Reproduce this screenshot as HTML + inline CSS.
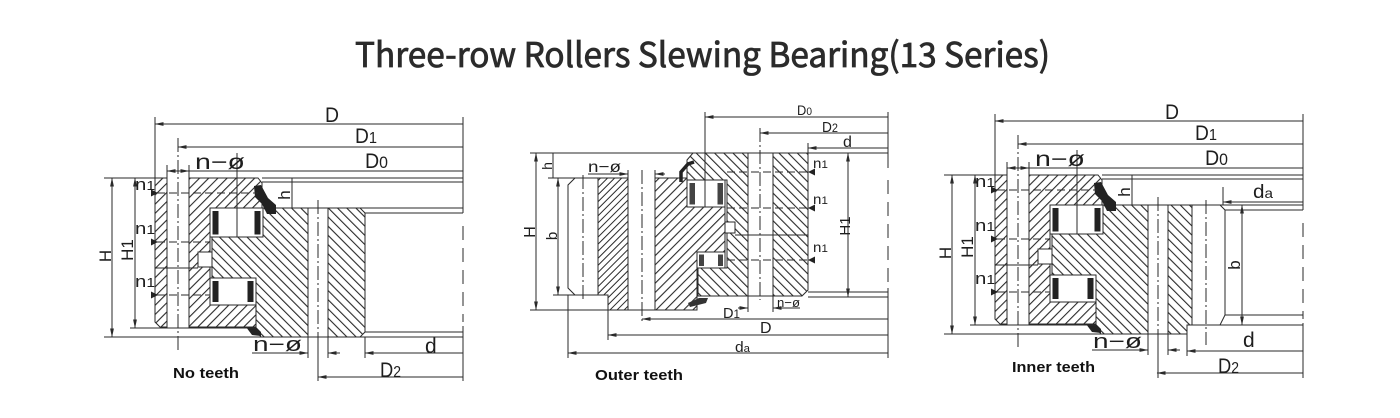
<!DOCTYPE html>
<html><head><meta charset="utf-8"><style>
html,body{margin:0;padding:0;background:#fff;}
svg{display:block;}
text{font-family:"Liberation Sans Narrow","Liberation Sans",sans-serif;fill:#1e1e1e;stroke:none;}
.t{font-family:"Noto Sans CJK SC","Liberation Sans",sans-serif;fill:#2b2b2b;stroke:#2b2b2b;stroke-width:0.8px;}
.b{font-family:"Liberation Sans",sans-serif;font-weight:bold;fill:#111;}
</style></head><body>
<svg width="1400" height="418" viewBox="0 0 1400 418" xmlns="http://www.w3.org/2000/svg">
<defs>
 <pattern id="hA" patternUnits="userSpaceOnUse" width="6.5" height="10" patternTransform="rotate(45)"><rect x="0" y="0" width="1.1" height="10" fill="#2a2a2a"/></pattern>
 <pattern id="hB" patternUnits="userSpaceOnUse" width="6.5" height="10" patternTransform="rotate(-45)"><rect x="0" y="0" width="1.1" height="10" fill="#2a2a2a"/></pattern>
 <pattern id="hC" patternUnits="userSpaceOnUse" width="5" height="10" patternTransform="rotate(45)"><rect x="0" y="0" width="1" height="10" fill="#2a2a2a"/></pattern>
 <marker id="a" markerUnits="userSpaceOnUse" markerWidth="9" markerHeight="5" refX="8.5" refY="2.5" orient="auto-start-reverse"><path d="M0,0.6 L9,2.5 L0,4.4z" fill="#2a2a2a"/></marker>

 <g id="core" stroke="#2a2a2a" stroke-width="1" fill="none">
  <polygon fill="url(#hA)" points="155,178 167,178 167,327 160,327 155,322"/>
  <polygon fill="url(#hA)" points="189,178 258,178 262,183 262,208 210,208 210,305 256,305 256,327 189,327"/>
  <polygon fill="url(#hB)" points="263,208 308,208 308,337 261,337 256,331 256,278 212,278 212,237 263,237"/>
  <rect x="210" y="208" width="53" height="29" fill="#fff"/>
  <rect x="212.5" y="211" width="6" height="23.5" fill="#222" stroke="none"/>
  <rect x="254.5" y="211" width="6" height="23.5" fill="#222" stroke="none"/>
  <rect x="210" y="278" width="46" height="27" fill="#fff"/>
  <rect x="212.5" y="281" width="6" height="21" fill="#222" stroke="none"/>
  <rect x="247.5" y="281" width="6" height="21" fill="#222" stroke="none"/>
  <rect x="198" y="252" width="14" height="15" fill="#fff"/>
  <polygon fill="#222" stroke="none" points="254,186 261,185 268,198 276,205 276,214 267,214 262,204 255,197"/>
  <polygon fill="#222" stroke="none" points="246,327 256,327 261,332 261,336 252,335"/>
  <line x1="178" y1="138" x2="178" y2="352" stroke-dasharray="14,3,2,3"/>
  <line x1="318" y1="200" x2="318" y2="342" stroke-dasharray="14,3,2,3"/>
  <line x1="318" y1="342" x2="318" y2="381"/>
  <line x1="237" y1="153" x2="237" y2="237"/>
  <line x1="157" y1="193" x2="258" y2="193" stroke-dasharray="8,4"/>
  <line x1="157" y1="242" x2="210" y2="242" stroke-dasharray="8,4"/>
  <line x1="157" y1="295" x2="210" y2="295" stroke-dasharray="8,4"/>
  <line x1="155" y1="268" x2="198" y2="268"/>
  <polygon fill="#222" stroke="none" points="151,189.5 158,193 151,196.5"/>
  <polygon fill="#222" stroke="none" points="151,238.5 158,242 151,245.5"/>
  <polygon fill="#222" stroke="none" points="151,291.5 158,295 151,298.5"/>
  <line x1="155" y1="124" x2="463" y2="124" marker-start="url(#a)"/>
  <line x1="155" y1="117" x2="155" y2="178"/>
  <line x1="178" y1="147" x2="463" y2="147" marker-start="url(#a)"/>
  <line x1="189" y1="171" x2="463" y2="171"/>
  <line x1="178" y1="171" x2="167" y2="171" marker-end="url(#a)"/>
  <line x1="178" y1="171" x2="189" y2="171" marker-end="url(#a)"/>
  <line x1="167" y1="165" x2="167" y2="178"/>
  <line x1="189" y1="165" x2="189" y2="178"/>
  <line x1="463" y1="117" x2="463" y2="213"/>
  <line x1="463" y1="226" x2="463" y2="322" stroke-dasharray="14,8"/>
  <line x1="463" y1="326" x2="463" y2="381"/>
  <line x1="104" y1="178" x2="155" y2="178"/>
  <line x1="262" y1="178" x2="463" y2="178"/>
  <line x1="262" y1="182" x2="463" y2="182"/>
  <line x1="308" y1="208" x2="463" y2="208"/>
  <line x1="104" y1="337" x2="328" y2="337"/>
  <line x1="130" y1="328" x2="256" y2="328"/>
  <line x1="112" y1="178" x2="112" y2="337" marker-start="url(#a)" marker-end="url(#a)"/>
  <line x1="135" y1="178" x2="135" y2="328" marker-start="url(#a)" marker-end="url(#a)"/>
  <line x1="292" y1="178" x2="292" y2="208"/>
  <line x1="286" y1="208" x2="298" y2="208"/>
  <line x1="252" y1="353" x2="308" y2="353" marker-end="url(#a)"/>
  <line x1="340" y1="353" x2="328" y2="353" marker-end="url(#a)"/>
  <line x1="308" y1="337" x2="308" y2="358"/>
  <line x1="328" y1="337" x2="328" y2="358"/>
  <text x="325" y="122" font-size="21" textLength="14" lengthAdjust="spacingAndGlyphs">D</text>
  <text x="355" y="143" font-size="21" textLength="22" lengthAdjust="spacingAndGlyphs">D<tspan font-size="16">1</tspan></text>
  <text x="365" y="168" font-size="21" textLength="23" lengthAdjust="spacingAndGlyphs">D<tspan font-size="17">0</tspan></text>
  <text x="195" y="169" font-size="21" textLength="50" lengthAdjust="spacingAndGlyphs">n−ø</text>
  <text x="135" y="190" font-size="17" textLength="20" lengthAdjust="spacingAndGlyphs">n<tspan font-size="13">1</tspan></text>
  <text x="135" y="234" font-size="17" textLength="20" lengthAdjust="spacingAndGlyphs">n<tspan font-size="13">1</tspan></text>
  <text x="135" y="287" font-size="17" textLength="20" lengthAdjust="spacingAndGlyphs">n<tspan font-size="13">1</tspan></text>
  <text transform="translate(111,256) rotate(-90)" font-size="17" text-anchor="middle">H</text>
  <text transform="translate(133,250) rotate(-90)" font-size="17" text-anchor="middle">H1</text>
  <text transform="translate(290,195) rotate(-90)" font-size="17" text-anchor="middle">h</text>
  <text x="253" y="351" font-size="20" textLength="49" lengthAdjust="spacingAndGlyphs">n−ø</text>
 </g>
</defs>

<rect width="1400" height="418" fill="#fff"/>

<text class="t" x="355" y="67" font-size="34" textLength="695" lengthAdjust="spacingAndGlyphs">Three-row Rollers Slewing Bearing(13 Series)</text>

<!-- Diagram 1 -->
<use href="#core"/>
<g stroke="#2a2a2a" stroke-width="1" fill="none">
 <polygon fill="url(#hB)" points="328,208 360,208 365,213 365,332 360,337 328,337"/>
 <line x1="365" y1="213" x2="463" y2="213"/>
 <line x1="365" y1="332" x2="463" y2="332"/>
 <line x1="328" y1="337" x2="463" y2="337"/>
 <line x1="365" y1="353" x2="463" y2="353" marker-start="url(#a)"/>
 <line x1="365" y1="337" x2="365" y2="358"/>
 <line x1="318" y1="377" x2="463" y2="377" marker-start="url(#a)"/>
</g>
<text x="425" y="353" font-size="21">d</text>
<text x="380" y="377" font-size="21" textLength="21" lengthAdjust="spacingAndGlyphs">D<tspan font-size="16">2</tspan></text>
<text class="b" x="173" y="378" font-size="15" textLength="66" lengthAdjust="spacingAndGlyphs">No teeth</text>

<!-- Diagram 3 -->
<use href="#core" transform="translate(840,-3)"/>
<g stroke="#2a2a2a" stroke-width="1" fill="none">
 <polygon fill="url(#hB)" points="1168,205 1192,205 1192,325 1187,325 1187,334 1168,334"/>
 <polyline points="1220,205 1225,210 1225,315 1220,325"/>
 <line x1="1225" y1="210" x2="1303" y2="210"/>
 <line x1="1225" y1="315" x2="1303" y2="315"/>
 <line x1="1187" y1="325" x2="1303" y2="325"/>
 <line x1="1168" y1="334" x2="1187" y2="334"/>
 <line x1="1206" y1="200" x2="1206" y2="345" stroke-dasharray="14,3,2,3"/>
 <line x1="1223" y1="202" x2="1303" y2="202" marker-start="url(#a)"/>
 <line x1="1223" y1="187" x2="1223" y2="205"/>
 <line x1="1242" y1="205" x2="1242" y2="325" marker-start="url(#a)" marker-end="url(#a)"/>
 <line x1="1187" y1="351" x2="1303" y2="351" marker-start="url(#a)"/>
 <line x1="1187" y1="325" x2="1187" y2="356"/>
 <line x1="1157" y1="373" x2="1303" y2="373" marker-start="url(#a)"/>
</g>
<text x="1253" y="198" font-size="19" textLength="20" lengthAdjust="spacingAndGlyphs">d<tspan font-size="14">a</tspan></text>
<text transform="translate(1240,265) rotate(-90)" font-size="17" text-anchor="middle">b</text>
<text x="1243" y="347" font-size="21">d</text>
<text x="1218" y="373" font-size="21" textLength="21" lengthAdjust="spacingAndGlyphs">D<tspan font-size="16">2</tspan></text>
<text class="b" x="1012" y="372" font-size="15" textLength="83" lengthAdjust="spacingAndGlyphs">Inner teeth</text>

<!-- Diagram 2 (outer teeth) -->
<g stroke="#2a2a2a" stroke-width="1" fill="none">
 <polygon fill="url(#hC)" points="598,178 628,178 628,310 608,310 608,295 598,295"/>
 <polygon fill="url(#hA)" points="655,178 687,178 687,207 725,207 725,252 697,252 697,310 655,310"/>
 <polygon fill="url(#hB)" points="687,160 693,153 808,153 808,290 802,296 698,296 698,268 727,268 727,180 687,180"/>
 <rect x="748" y="153" width="25" height="143" fill="#fff"/>
 <line x1="760" y1="128" x2="760" y2="300" stroke-dasharray="14,3,2,3"/>
 <rect x="687" y="180" width="38" height="27" fill="#fff"/>
 <rect x="689.5" y="183" width="5.5" height="21.5" fill="#444" stroke="none"/>
 <rect x="717.5" y="183" width="5.5" height="21.5" fill="#444" stroke="none"/>
 <rect x="697" y="252" width="28" height="16" fill="#fff"/>
 <rect x="699" y="254.5" width="5" height="11.5" fill="#444" stroke="none"/>
 <rect x="718" y="254.5" width="5" height="11.5" fill="#444" stroke="none"/>
 <rect x="725" y="222" width="10" height="11" fill="#fff"/>
 <path d="M681,182 L681,172 L688,164 L694,162" stroke="#222" stroke-width="3.5"/>
 <polygon fill="#333" stroke="none" points="688,303 699,298 708,298 706,303 690,307"/>
 <line x1="705" y1="112" x2="705" y2="207"/>
 <line x1="727" y1="172" x2="808" y2="172" stroke-dasharray="8,4"/>
 <line x1="727" y1="208" x2="808" y2="208" stroke-dasharray="8,4"/>
 <line x1="735" y1="235" x2="808" y2="235"/>
 <line x1="727" y1="260" x2="808" y2="260" stroke-dasharray="8,4"/>
 <polygon fill="#222" stroke="none" points="815,168.5 808,172 815,175.5"/>
 <polygon fill="#222" stroke="none" points="815,204.5 808,208 815,211.5"/>
 <polygon fill="#222" stroke="none" points="815,256.5 808,260 815,263.5"/>
 <polyline points="575,178 568,185 568,288 575,295"/>
 <line x1="583" y1="175" x2="583" y2="300" stroke-dasharray="14,3,2,3"/>
 <line x1="642" y1="170" x2="642" y2="323" stroke-dasharray="14,3,2,3"/>
 <line x1="530" y1="153" x2="888" y2="153"/>
 <line x1="808" y1="148" x2="888" y2="148"/>
 <line x1="548" y1="178" x2="598" y2="178"/>
 <line x1="553" y1="295" x2="608" y2="295"/>
 <line x1="530" y1="310" x2="697" y2="310"/>
 <line x1="808" y1="292" x2="888" y2="292"/>
 <line x1="808" y1="297" x2="888" y2="297"/>
 <line x1="536" y1="153" x2="536" y2="310" marker-start="url(#a)" marker-end="url(#a)"/>
 <line x1="553" y1="153" x2="553" y2="178"/>
 <line x1="558" y1="178" x2="558" y2="295" marker-start="url(#a)" marker-end="url(#a)"/>
 <line x1="848" y1="153" x2="848" y2="297" marker-start="url(#a)" marker-end="url(#a)"/>
 <line x1="705" y1="117" x2="888" y2="117" marker-start="url(#a)"/>
 <line x1="760" y1="133" x2="888" y2="133" marker-start="url(#a)"/>
 <line x1="808" y1="148" x2="888" y2="148" marker-start="url(#a)"/>
 <line x1="808" y1="143" x2="808" y2="153"/>
 <line x1="888" y1="112" x2="888" y2="168"/>
 <line x1="888" y1="180" x2="888" y2="285" stroke-dasharray="14,8"/>
 <line x1="888" y1="288" x2="888" y2="358"/>
 <line x1="588" y1="174" x2="628" y2="174" marker-end="url(#a)"/>
 <line x1="665" y1="174" x2="655" y2="174" marker-end="url(#a)"/>
 <line x1="628" y1="170" x2="628" y2="178"/>
 <line x1="655" y1="170" x2="655" y2="178"/>
 <line x1="642" y1="319" x2="888" y2="319" marker-start="url(#a)"/>
 <line x1="608" y1="335" x2="888" y2="335" marker-start="url(#a)"/>
 <line x1="608" y1="310" x2="608" y2="340"/>
 <line x1="568" y1="353" x2="888" y2="353" marker-start="url(#a)"/>
 <line x1="568" y1="295" x2="568" y2="358"/>
 <line x1="738" y1="308" x2="748" y2="308" marker-end="url(#a)"/>
 <line x1="800" y1="308" x2="773" y2="308" marker-end="url(#a)"/>
 <line x1="748" y1="296" x2="748" y2="312"/>
 <line x1="773" y1="296" x2="773" y2="312"/>
</g>
<text x="797" y="115" font-size="14" textLength="15" lengthAdjust="spacingAndGlyphs">D<tspan font-size="11">0</tspan></text>
<text x="822" y="132" font-size="15" textLength="16" lengthAdjust="spacingAndGlyphs">D<tspan font-size="12">2</tspan></text>
<text x="843" y="147" font-size="16">d</text>
<text x="813" y="168" font-size="14" textLength="15" lengthAdjust="spacingAndGlyphs">n<tspan font-size="11">1</tspan></text>
<text x="813" y="204" font-size="14" textLength="15" lengthAdjust="spacingAndGlyphs">n<tspan font-size="11">1</tspan></text>
<text x="813" y="252" font-size="14" textLength="15" lengthAdjust="spacingAndGlyphs">n<tspan font-size="11">1</tspan></text>
<text transform="translate(850,226) rotate(-90)" font-size="15" text-anchor="middle">H1</text>
<text transform="translate(535,232) rotate(-90)" font-size="16" text-anchor="middle">H</text>
<text transform="translate(552,166) rotate(-90)" font-size="14" text-anchor="middle">h</text>
<text transform="translate(557,236) rotate(-90)" font-size="15" text-anchor="middle">b</text>
<text x="588" y="172" font-size="16" textLength="33" lengthAdjust="spacingAndGlyphs">n−ø</text>
<text x="723" y="318" font-size="15" textLength="17" lengthAdjust="spacingAndGlyphs">D<tspan font-size="12">1</tspan></text>
<text x="760" y="333" font-size="16">D</text>
<text x="735" y="352" font-size="15" textLength="15" lengthAdjust="spacingAndGlyphs">d<tspan font-size="11">a</tspan></text>
<text x="777" y="307" font-size="13" textLength="23" lengthAdjust="spacingAndGlyphs">n−ø</text>
<text class="b" x="595" y="380" font-size="15" textLength="88" lengthAdjust="spacingAndGlyphs">Outer teeth</text>
</svg>
</body></html>
